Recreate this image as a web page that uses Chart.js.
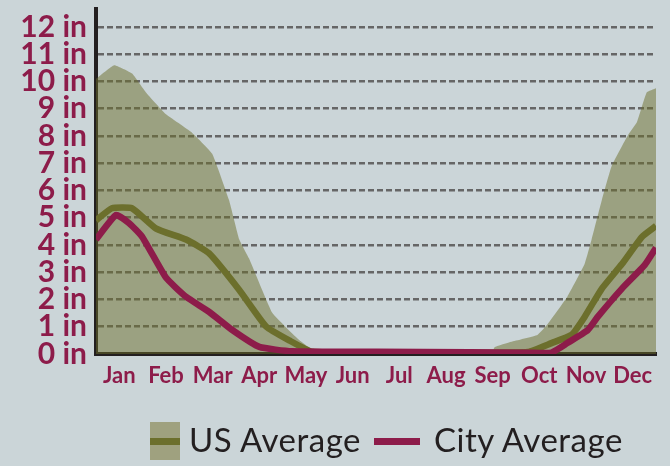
<!DOCTYPE html>
<html>
<head>
<meta charset="utf-8">
<script src="https://cdn.jsdelivr.net/npm/chart.js@4"></script>
<style>
  html, body { margin: 0; padding: 0; background: #cbd5d8; }
  #wrap { position: relative; width: 670px; height: 466px; }
  #legend { position: absolute; left: 0; top: 0; width: 670px; height: 466px; pointer-events: none;
            font-family: Lato, "Open Sans", sans-serif; color: #231f20; }
  .sw { position: absolute; }
  .lbl { position: absolute; font-size: 33px; line-height: 33px; letter-spacing: 0.5px; white-space: nowrap; }
</style>
</head>
<body>
<div id="wrap">
  <canvas id="c" width="670" height="466"></canvas>
  <div id="legend">
    <div class="sw" style="left:150px;top:422px;width:30px;height:38px;background:#9fa17f"></div>
    <div class="sw" style="left:150px;top:438px;width:30px;height:7px;background:#6c6f2c"></div>
    <div class="lbl" style="left:189px;top:423px">US Average</div>
    <div class="sw" style="left:374px;top:438px;width:46px;height:7px;background:#8d1c4a"></div>
    <div class="lbl" style="left:434px;top:423px">City Average</div>
  </div>
</div>
<script>
// month labels (x axis runs 0..12, one unit per month)
const months = ['Jan', 'Feb', 'Mar', 'Apr', 'May', 'Jun', 'Jul', 'Aug', 'Sep', 'Oct', 'Nov', 'Dec'];
const yTicks = [0, 1, 2, 3, 4, 5, 6, 7, 8, 9, 10, 11, 12];

// shaded range (top edge)
const rangeX = [0, 0.39, 0.77, 1.07, 1.5, 2.04, 2.49, 2.85, 3.07, 3.28, 3.78, 4.36, 4.79, 8.48, 8.54, 8.9, 9.46, 9.68, 10.1, 10.47, 10.62, 10.84, 11.05, 11.39, 11.59, 11.8, 12];
const rangeY = [10.1, 10.6, 10.3, 9.6, 8.8, 8.15, 7.35, 5.65, 4.2, 3.5, 1.5, 0.5, 0, 0, 0.25, 0.45, 0.7, 1.1, 2.1, 3.3, 4.2, 5.65, 6.9, 8.0, 8.5, 9.6, 9.75];

// US Average
const usX = [0, 0.34, 0.77, 1.29, 1.93, 2.42, 3.07, 3.65, 4.14, 4.64, 6, 8, 9.25, 9.76, 10.19, 10.47, 10.84, 11.27, 11.7, 12];
const usY = [4.9, 5.35, 5.35, 4.6, 4.2, 3.7, 2.35, 1.0, 0.5, 0.08, 0.05, 0.05, 0.07, 0.4, 0.7, 1.36, 2.4, 3.3, 4.3, 4.7];

// City Average
const cityX = [0, 0.43, 0.71, 0.99, 1.5, 1.93, 2.42, 2.92, 3.5, 4.2, 6, 8, 9.29, 9.76, 10.1, 10.54, 10.75, 11.27, 11.76, 12];
const cityY = [4.2, 5.1, 4.8, 4.3, 2.8, 2.1, 1.55, 0.88, 0.26, 0.1, 0.08, 0.06, 0.05, 0.05, 0.4, 0.88, 1.36, 2.4, 3.27, 3.9];

const maroon = '#8d1c4a';
const olive = '#6c6f2c';
const axisDark = '#231f20';

const pts = (xs, ys) => xs.map((x, i) => ({ x: x, y: ys[i] }));

new Chart(document.getElementById('c'), {
  type: 'line',
  data: {
    datasets: [
      {
        label: 'City Average',
        data: pts(cityX, cityY),
        borderColor: maroon,
        borderWidth: 6.5,
        pointRadius: 0,
        tension: 0.15,
        borderJoinStyle: 'round',
        fill: false,
        order: 1
      },
      {
        label: 'US Average',
        data: pts(usX, usY),
        borderColor: olive,
        borderWidth: 6.5,
        pointRadius: 0,
        tension: 0.15,
        borderJoinStyle: 'round',
        fill: false,
        order: 2
      },
      {
        label: 'Range',
        data: pts(rangeX, rangeY),
        borderWidth: 0,
        borderColor: 'rgba(0,0,0,0)',
        backgroundColor: 'rgba(107,110,42,0.5)',
        pointRadius: 0,
        tension: 0.1,
        fill: 'origin',
        order: 3
      }
    ]
  },
  options: {
    responsive: false,
    animation: false,
    layout: { padding: { top: 9, right: 14, left: 0, bottom: 0 } },
    plugins: { legend: { display: false }, tooltip: { enabled: false } },
    scales: {
      x: {
        type: 'linear',
        min: 0,
        max: 12,
        afterFit: s => { s.height = 112; s.paddingLeft = 0; s.paddingRight = 0; },
        afterBuildTicks: s => { s.ticks = months.map((m, i) => ({ value: i + 0.5 })); },
        grid: { display: true, color: 'rgba(0,0,0,0)', drawTicks: false },
        border: { display: true, color: axisDark, width: 4 },
        ticks: {
          autoSkip: false,
          maxRotation: 0,
          padding: 9,
          color: maroon,
          font: { family: 'Lato', size: 22, weight: 'bold' },
          callback: (v, i) => months[i]
        }
      },
      y: {
        min: 0,
        max: 12.66,
        afterFit: s => { s.width = 96; s.paddingTop = 0; s.paddingBottom = 0; },
        afterBuildTicks: s => { s.ticks = yTicks.map(v => ({ value: v })); },
        grid: { color: '#666666', lineWidth: 2.5, drawTicks: false },
        border: { display: true, color: axisDark, width: 4, dash: [6, 3] },
        ticks: {
          autoSkip: false,
          padding: 9,
          color: maroon,
          font: { family: 'Lato', size: 30, weight: 'bold' },
          callback: v => v + ' in'
        }
      }
    }
  }
});
</script>
</body>
</html>
